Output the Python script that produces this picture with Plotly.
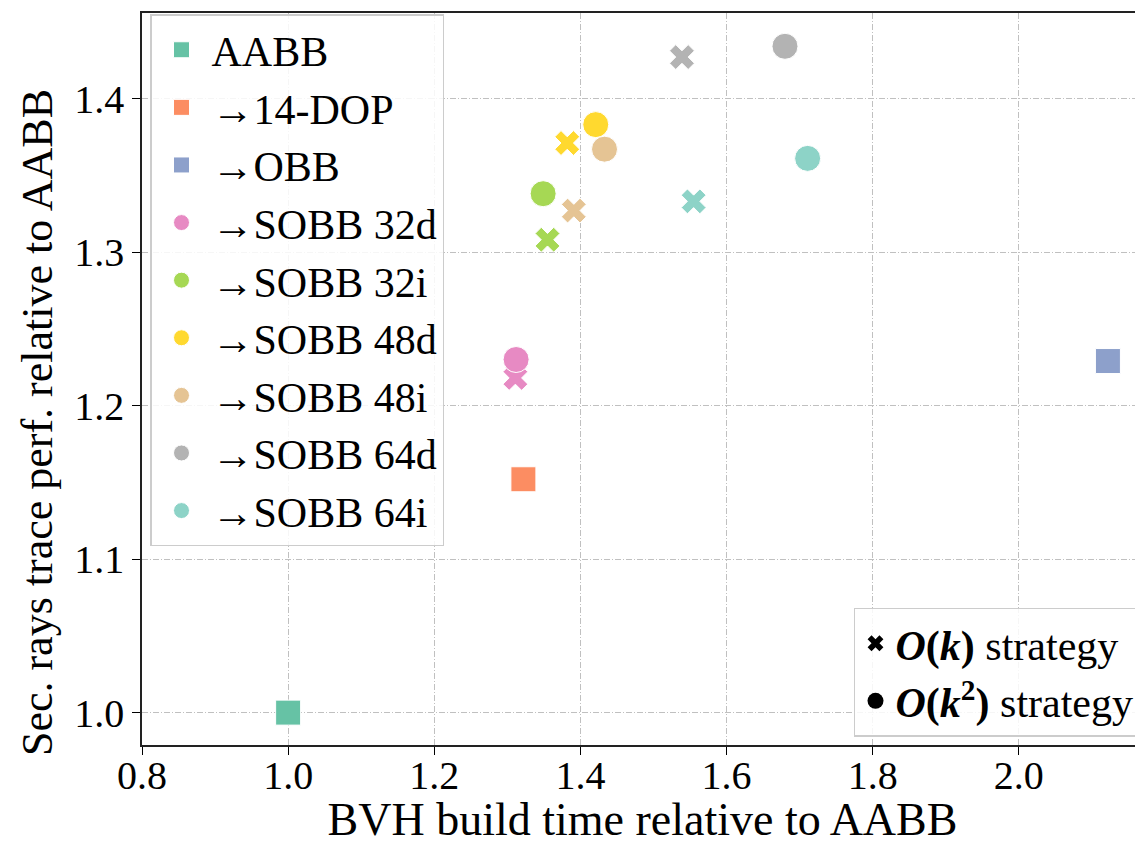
import plotly.graph_objects as go

# ---- data ----
baseline_names = ["AABB", "→14-DOP", "→OBB"]
baseline_build = [1.000, 1.322, 2.122]
baseline_trace = [1.000, 1.152, 1.229]
baseline_colors = ["#66c2a5", "#fc8d62", "#8da0cb"]

sobb_names = ["→SOBB 32d", "→SOBB 32i", "→SOBB 48d", "→SOBB 48i", "→SOBB 64d", "→SOBB 64i"]
sobb_colors = ["#e78ac3", "#a6d854", "#ffd92f", "#e5c494", "#b3b3b3", "#8dd3c7"]
# O(k) strategy
ok_build = [1.311, 1.355, 1.382, 1.391, 1.539, 1.555]
ok_trace = [1.218, 1.308, 1.371, 1.327, 1.427, 1.333]
# O(k^2) strategy
ok2_build = [1.312, 1.349, 1.421, 1.433, 1.680, 1.711]
ok2_trace = [1.230, 1.338, 1.383, 1.367, 1.434, 1.361]

x_title = "BVH build time relative to AABB"
y_title = "Sec. rays trace perf. relative to AABB"
x_ticks = [0.8, 1.0, 1.2, 1.4, 1.6, 1.8, 2.0]
y_ticks = [1.0, 1.1, 1.2, 1.3, 1.4]

FONT = "Liberation Serif"
fig = go.Figure()

for n, bx, by, c in zip(baseline_names, baseline_build, baseline_trace, baseline_colors):
    fig.add_trace(go.Scatter(
        x=[bx], y=[by], mode="markers", name=n, legend="legend",
        marker=dict(symbol="square", size=25, color=c, line=dict(color="white", width=1))))

for n, c, xb, yb in zip(sobb_names, sobb_colors, ok_build, ok_trace):
    fig.add_trace(go.Scatter(
        x=[xb], y=[yb], mode="markers", name=n + " O(k)", showlegend=False,
        marker=dict(symbol="x", size=22, color=c, line=dict(color="white", width=1))))

for n, c, xb, yb in zip(sobb_names, sobb_colors, ok2_build, ok2_trace):
    fig.add_trace(go.Scatter(
        x=[xb], y=[yb], mode="markers", name=n, legend="legend",
        marker=dict(symbol="circle", size=26, color=c, line=dict(color="white", width=1))))

# strategy legend
fig.add_trace(go.Scatter(x=[None], y=[None], mode="markers", legend="legend2",
                         name="<b><i>O</i>(<i>k</i>)</b> strategy",
                         marker=dict(symbol="x", size=14, color="black")))
fig.add_trace(go.Scatter(x=[None], y=[None], mode="markers", legend="legend2",
                         name="<b><i>O</i>(<i>k</i><sup>2</sup>)</b> strategy",
                         marker=dict(symbol="circle", size=16, color="black")))

grid = dict(showgrid=True, gridcolor="#c0c0c0", gridwidth=1, griddash="6px,2px,1px,2px",
            zeroline=False, ticks="outside", ticklen=8, tickcolor="black",
            showline=True, linecolor="#222", linewidth=1.5,
            tickfont=dict(family=FONT, size=40, color="black"))

# page body has an 8px margin; layout below is shifted to compensate
fig.update_layout(
    width=1135, height=837,
    margin=dict(l=134, r=0, t=5, b=100),
    paper_bgcolor="white", plot_bgcolor="white",
    font=dict(family=FONT, color="black"),
    xaxis=dict(range=[0.8, 2.170], tickvals=x_ticks, ticktext=[f"{v:.1f}" for v in x_ticks],
               mirror=True, ticklabelstandoff=-14,
               title=dict(text=x_title, font=dict(family=FONT, size=46), standoff=14), **grid),
    yaxis=dict(range=[0.9789, 1.4557], tickvals=y_ticks, ticktext=[f"{v:.1f}" for v in y_ticks],
               **grid),
    legend=dict(x=0.008, y=0.998, xanchor="left", yanchor="top",
                bgcolor="rgba(255,255,255,0.85)", bordercolor="#cccccc", borderwidth=1.5,
                font=dict(family=FONT, size=42, color="black"), itemwidth=50, tracegroupgap=0),
    legend2=dict(x=0.997, y=0.011, xanchor="right", yanchor="bottom",
                 bgcolor="rgba(255,255,255,0.85)", bordercolor="#cccccc", borderwidth=1.5,
                 font=dict(family=FONT, size=42, color="black"), itemwidth=30),
    annotations=[dict(text=y_title, textangle=-90, xref="paper", yref="paper",
                      x=-0.105, y=0.441, xanchor="center", yanchor="middle", showarrow=False,
                      font=dict(family=FONT, size=44, color="black"))],
)

fig.write_html("out.html")
